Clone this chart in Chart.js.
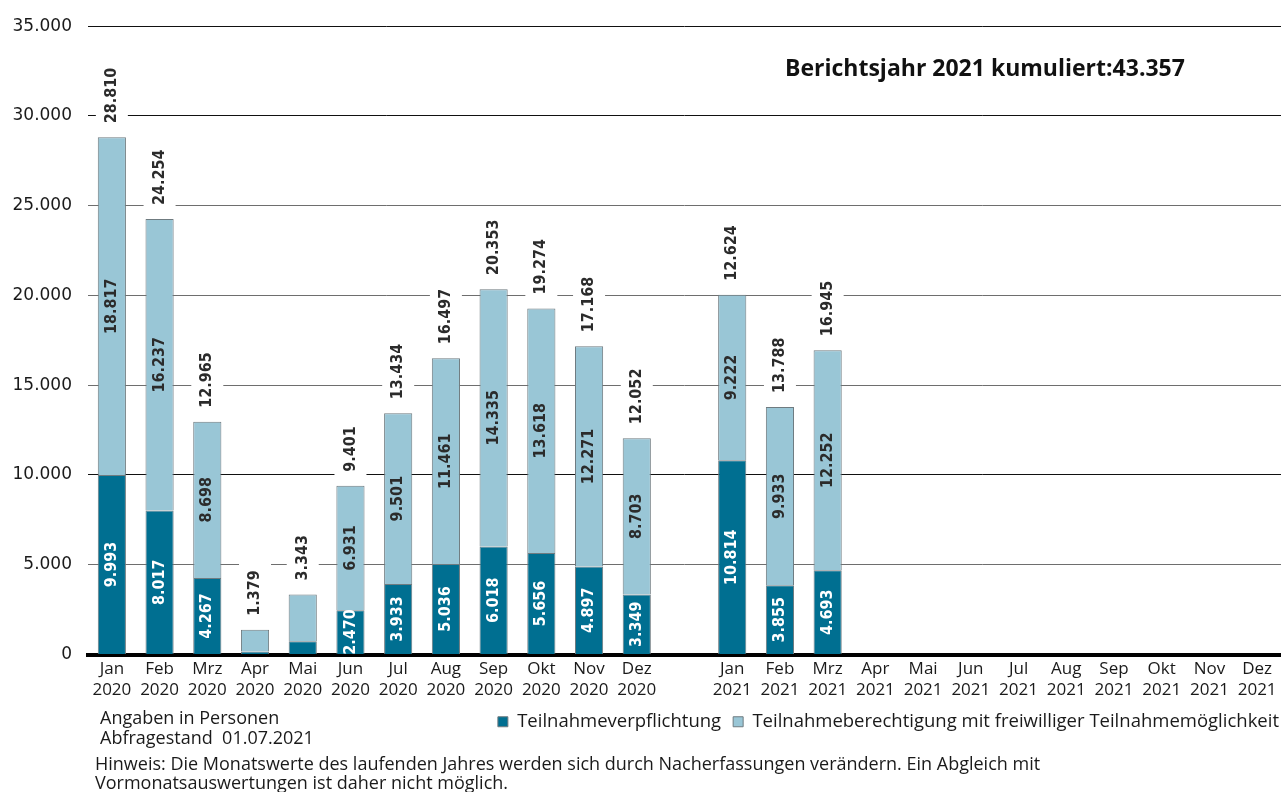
<!DOCTYPE html>
<html lang="de">
<head>
<meta charset="utf-8">
<title>Teilnahme je Monat</title>
<script src="https://cdn.jsdelivr.net/npm/chart.js@4"></script>
<style>
  body { margin: 0; background: #fff; }
  .wrap { position: relative; width: 1281px; height: 792px; overflow: hidden; }
  .note { position: absolute; font-family: 'Open Sans', sans-serif; font-size: 18px; color: #1a1a1a; white-space: nowrap; line-height: 19px; }
  #title { left: 785px; top: 53px; font-weight: bold; font-size: 23px; line-height: 28px; color: #111; }
</style>
</head>
<body>
<div class="wrap">
  <canvas id="chart" width="1281" height="792"></canvas>
  <div class="note" id="title">Berichtsjahr 2021 kumuliert:43.357</div>
  <div class="note" style="left:100px; top:707px; line-height:20px;">Angaben in Personen<br>Abfragestand&nbsp; 01.07.2021</div>
  <div class="note" style="left:95px; top:754px;">Hinweis: Die Monatswerte des laufenden Jahres werden sich durch Nacherfassungen verändern. Ein Abgleich mit<br>Vormonatsauswertungen ist daher nicht möglich.</div>
</div>
<script>
const months = ['Jan', 'Feb', 'Mrz', 'Apr', 'Mai', 'Jun', 'Jul', 'Aug', 'Sep', 'Okt', 'Nov', 'Dez'];

// 2020
const pflicht2020 = [9993, 8017, 4267, 170, 740, 2470, 3933, 5036, 6018, 5656, 4897, 3349];
const freiwillig2020 = [18817, 16237, 8698, 1209, 2603, 6931, 9501, 11461, 14335, 13618, 12271, 8703];
const summe2020 = [28810, 24254, 12965, 1379, 3343, 9401, 13434, 16497, 20353, 19274, 17168, 12052];

// 2021 (only Jan-Mrz reported so far)
const pflicht2021 = [10814, 3855, 4693, null, null, null, null, null, null, null, null, null];
const freiwillig2021 = [9222, 9933, 12252, null, null, null, null, null, null, null, null, null];
const summe2021 = [12624, 13788, 16945, null, null, null, null, null, null, null, null, null];

const yTicks = [0, 5000, 10000, 15000, 20000, 25000, 30000, 35000];

// one empty slot between the two years
const labels = [...months.map(m => [m, '2020']), '', ...months.map(m => [m, '2021'])];
const pflicht = [...pflicht2020, null, ...pflicht2021];
const freiwillig = [...freiwillig2020, null, ...freiwillig2021];
const summen = [...summe2020, null, ...summe2021];

const fmt = v => String(v).replace(/\B(?=(\d{3})+(?!\d))/g, '.');

const DARK = '#006f91';
const LIGHT = '#99c6d6';
const LEGEND_PAD = 12;

function drawUp(ctx, text, x, y) {
  ctx.save();
  ctx.translate(x, y);
  ctx.rotate(-Math.PI / 2);
  ctx.fillText(text, 0, 0);
  ctx.restore();
}

const barLabels = {
  id: 'barLabels',
  afterLayout(chart) {
    // legend items flush with the right edge (drop the trailing padding)
    chart.legend.left += LEGEND_PAD - 2;
    chart.legend.right += LEGEND_PAD - 2;
  },
  afterDatasetsDraw(chart) {
    const ctx = chart.ctx;
    ctx.save();
    ctx.font = 'bold 16px "DejaVu Sans Condensed", "DejaVu Sans", sans-serif';
    ctx.textAlign = 'center';
    ctx.textBaseline = 'middle';

    // values inside the segments (small bars stay unlabeled)
    chart.data.datasets.forEach((ds, di) => {
      chart.getDatasetMeta(di).data.forEach((bar, i) => {
        const v = ds.data[i];
        if (v == null) return;
        if ((pflicht[i] || 0) + (freiwillig[i] || 0) < 5000) return;
        ctx.fillStyle = di === 0 ? '#ffffff' : '#2b2b2b';
        drawUp(ctx, fmt(v), bar.x, (bar.y + bar.base) / 2);
      });
    });

    // totals above the bars, on a white patch over the grid lines
    chart.getDatasetMeta(1).data.forEach((bar, i) => {
      const t = summen[i];
      if (t == null) return;
      const text = fmt(t);
      const w = ctx.measureText(text).width;
      const cy = bar.y - 14 - w / 2;
      ctx.fillStyle = '#ffffff';
      ctx.fillRect(bar.x - 16, cy - w / 2 - 7, 32, w + 14);
      ctx.fillStyle = '#2b2b2b';
      drawUp(ctx, text, bar.x, cy);
    });
    ctx.restore();
  }
};

new Chart(document.getElementById('chart'), {
  type: 'bar',
  data: {
    labels: labels,
    datasets: [
      {
        label: 'Teilnahmeverpflichtung',
        data: pflicht,
        backgroundColor: DARK,
        borderColor: '#6f7b80',
        borderWidth: 1,
      },
      {
        label: 'Teilnahmeberechtigung mit freiwilliger Teilnahmemöglichkeit',
        data: freiwillig,
        backgroundColor: LIGHT,
        borderColor: '#6f7b80',
        borderWidth: 1,
      },
    ],
  },
  options: {
    responsive: false,
    animation: false,
    barPercentage: 0.59,
    categoryPercentage: 1,
    layout: { padding: { top: 22, right: 0, bottom: 51, left: 0 } },
    scales: {
      x: {
        stacked: true,
        grid: { display: false, drawTicks: false },
        border: { display: true, color: '#000', width: 4 },
        ticks: {
          autoSkip: false,
          maxRotation: 0,
          padding: 4,
          color: '#1a1a1a',
          font: { family: 'Open Sans', size: 17, lineHeight: 1.24 },
        },
        afterFit: s => { s.height = 46; },
      },
      y: {
        stacked: true,
        min: 0,
        max: 35000,
        afterBuildTicks: s => { s.ticks = yTicks.map(v => ({ value: v })); },
        ticks: {
          padding: 16,
          color: '#1a1a1a',
          font: { family: 'DejaVu Sans', size: 17 },
          callback: v => fmt(v),
        },
        grid: {
          drawTicks: false,
          lineWidth: 1,
          color: c => (c.tick && [10000, 30000, 35000].includes(c.tick.value)) ? '#111' : '#6e6e6e',
        },
        border: { display: false },
        afterFit: s => { s.width = 88; },
      },
    },
    plugins: {
      legend: {
        position: 'bottom',
        align: 'end',
        labels: {
          boxWidth: 10,
          boxHeight: 10,
          padding: LEGEND_PAD,
          color: '#1a1a1a',
          font: { family: 'Open Sans', size: 18.5 },
        },
      },
      tooltip: { enabled: false },
    },
  },
  plugins: [barLabels],
});
</script>
</body>
</html>
